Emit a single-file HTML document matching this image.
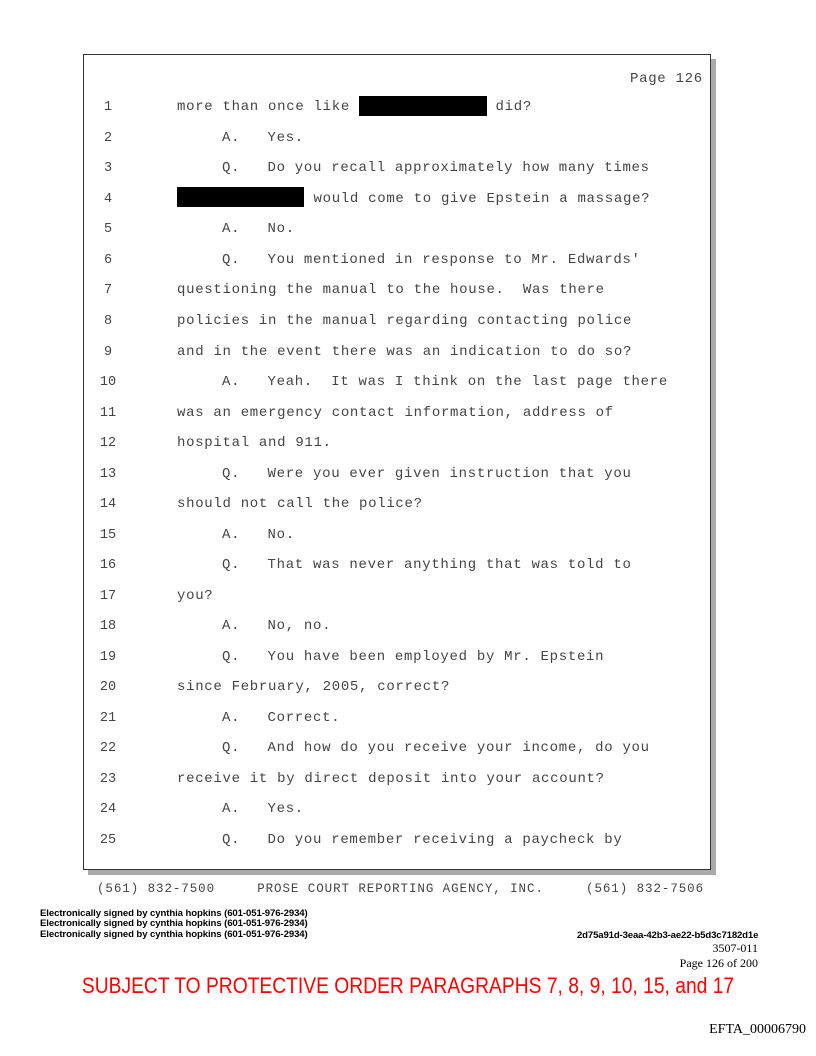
<!DOCTYPE html>
<html><head><meta charset="utf-8"><style>
body{margin:0;width:816px;height:1056px;background:#fff;position:relative;overflow:hidden;font-family:"Liberation Mono",monospace;}
.box{position:absolute;left:83px;top:54px;width:626px;height:814px;border:1px solid #333;background:#fff;box-shadow:5px 5px 0 #aaa;}
.t{position:absolute;font-size:14px;letter-spacing:0.7px;color:#444;white-space:pre;line-height:1;}
.n{position:absolute;font-size:13.5px;color:#444;width:30px;text-align:center;left:93px;line-height:1;margin-top:1px;}
.r{position:absolute;background:#000;height:20px;}
.s{position:absolute;left:40px;font-family:"Liberation Sans",sans-serif;font-weight:bold;font-size:9.6px;letter-spacing:-0.1px;}
.tr{position:absolute;right:58px;font-family:"Liberation Serif",serif;font-size:12px;text-align:right;}
</style></head><body>
<div class="box"></div>
<div class="t" style="left:630px;top:72px">Page 126</div>
<div class="n" style="top:100px">1</div><div class="t" style="left:177px;top:100px">more than once like                did?</div>
<div class="r" style="left:359px;top:96px;width:128px"></div>
<div class="n" style="top:131px">2</div><div class="t" style="left:222px;top:131px">A.   Yes.</div>
<div class="n" style="top:161px">3</div><div class="t" style="left:222px;top:161px">Q.   Do you recall approximately how many times</div>
<div class="n" style="top:192px">4</div><div class="t" style="left:177px;top:192px">               would come to give Epstein a massage?</div>
<div class="r" style="left:177px;top:187px;width:127px"></div>
<div class="n" style="top:222px">5</div><div class="t" style="left:222px;top:222px">A.   No.</div>
<div class="n" style="top:253px">6</div><div class="t" style="left:222px;top:253px">Q.   You mentioned in response to Mr. Edwards'</div>
<div class="n" style="top:283px">7</div><div class="t" style="left:177px;top:283px">questioning the manual to the house.  Was there</div>
<div class="n" style="top:314px">8</div><div class="t" style="left:177px;top:314px">policies in the manual regarding contacting police</div>
<div class="n" style="top:345px">9</div><div class="t" style="left:177px;top:345px">and in the event there was an indication to do so?</div>
<div class="n" style="top:375px">10</div><div class="t" style="left:222px;top:375px">A.   Yeah.  It was I think on the last page there</div>
<div class="n" style="top:406px">11</div><div class="t" style="left:177px;top:406px">was an emergency contact information, address of</div>
<div class="n" style="top:436px">12</div><div class="t" style="left:177px;top:436px">hospital and 911.</div>
<div class="n" style="top:467px">13</div><div class="t" style="left:222px;top:467px">Q.   Were you ever given instruction that you</div>
<div class="n" style="top:497px">14</div><div class="t" style="left:177px;top:497px">should not call the police?</div>
<div class="n" style="top:528px">15</div><div class="t" style="left:222px;top:528px">A.   No.</div>
<div class="n" style="top:558px">16</div><div class="t" style="left:222px;top:558px">Q.   That was never anything that was told to</div>
<div class="n" style="top:589px">17</div><div class="t" style="left:177px;top:589px">you?</div>
<div class="n" style="top:619px">18</div><div class="t" style="left:222px;top:619px">A.   No, no.</div>
<div class="n" style="top:650px">19</div><div class="t" style="left:222px;top:650px">Q.   You have been employed by Mr. Epstein</div>
<div class="n" style="top:680px">20</div><div class="t" style="left:177px;top:680px">since February, 2005, correct?</div>
<div class="n" style="top:711px">21</div><div class="t" style="left:222px;top:711px">A.   Correct.</div>
<div class="n" style="top:741px">22</div><div class="t" style="left:222px;top:741px">Q.   And how do you receive your income, do you</div>
<div class="n" style="top:772px">23</div><div class="t" style="left:177px;top:772px">receive it by direct deposit into your account?</div>
<div class="n" style="top:802px">24</div><div class="t" style="left:222px;top:802px">A.   Yes.</div>
<div class="n" style="top:833px">25</div><div class="t" style="left:222px;top:833px">Q.   Do you remember receiving a paycheck by</div>
<div class="t" style="left:97px;top:883px;font-size:12.5px;letter-spacing:0.93px;color:#444">(561) 832-7500     PROSE COURT REPORTING AGENCY, INC.     (561) 832-7506</div>
<div class="s" style="top:908px">Electronically signed by cynthia hopkins (601-051-976-2934)</div>
<div class="s" style="top:918px">Electronically signed by cynthia hopkins (601-051-976-2934)</div>
<div class="s" style="top:929px">Electronically signed by cynthia hopkins (601-051-976-2934)</div>
<div class="s" style="left:577px;top:930px;letter-spacing:-0.15px">2d75a91d-3eaa-42b3-ae22-b5d3c7182d1e</div>
<div class="tr" style="top:941px">3507-011</div>
<div class="tr" style="top:956px">Page 126 of 200</div>
<div style="position:absolute;left:0;width:816px;text-align:center;top:973px;font-family:'Liberation Sans',sans-serif;font-size:22px;color:#f00;transform:scaleX(0.875)">SUBJECT TO PROTECTIVE ORDER PARAGRAPHS 7, 8, 9, 10, 15, and 17</div>
<div style="position:absolute;right:10px;top:1022px;font-family:'Liberation Serif',serif;font-size:14px">EFTA_00006790</div>
</body></html>
